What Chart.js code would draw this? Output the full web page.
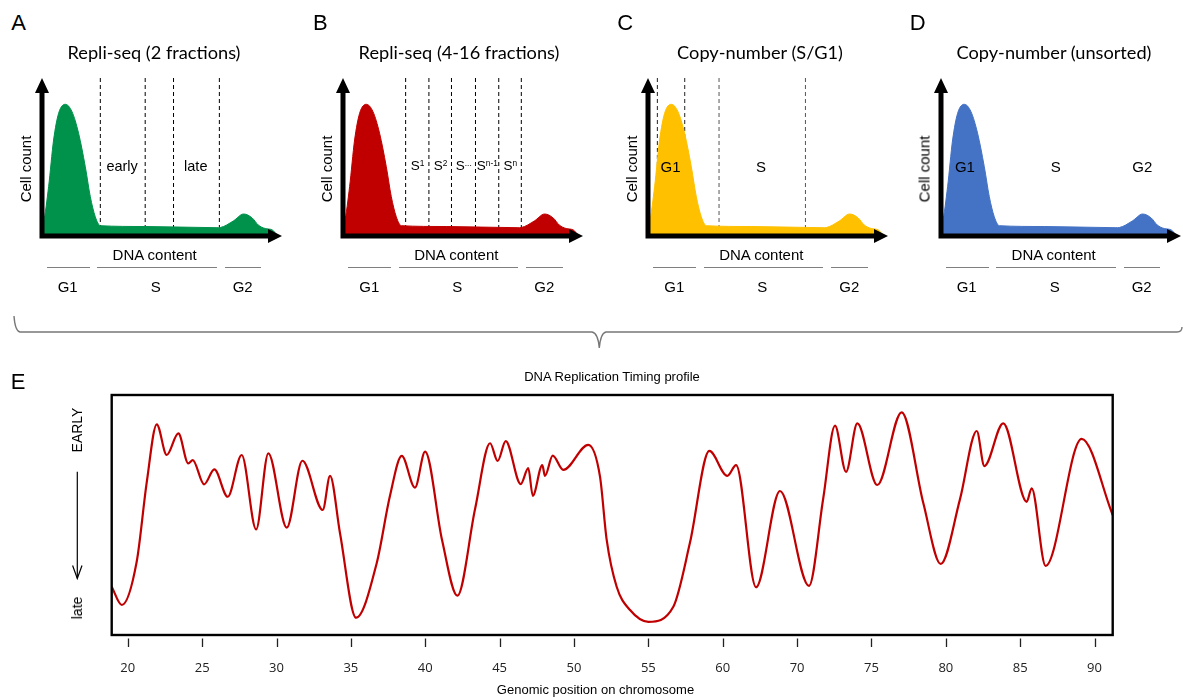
<!DOCTYPE html>
<html>
<head>
<meta charset="utf-8">
<script src="https://cdn.jsdelivr.net/npm/chart.js"></script>
<style>
html, body { margin: 0; padding: 0; background: #fff; }
#fig { position: relative; width: 1183px; height: 697px; overflow: hidden; background: #fff;
       font-family: Arial, "Liberation Sans", sans-serif; color: #000; }
#fig canvas { position: absolute; }
.lbl { position: absolute; white-space: nowrap; transform: translate(-50%, -50%); line-height: 1; }
.rot { transform: translate(-50%, -50%) rotate(-90deg); }
.ttl { font-family: Lato, "Open Sans", sans-serif; font-size: 18.2px; }
.bar { position: absolute; height: 0; border-top: 1px solid #7f7f7f; }
sup { font-size: 0.62em; vertical-align: 0.55em; line-height: 0; }
svg { position: absolute; left: 0; top: 0; }
</style>
</head>
<body>
<div id="fig">
  <svg width="1183" height="697">
    <path d="M14,316 Q15,331 20,332 L592,332 Q598,333 599.3,348 Q600.6,333 606,332 L1177,332 Q1182,332 1182,327"
          fill="none" stroke="#777" stroke-width="1.4"/>
    <line x1="77.3" y1="471.7" x2="77.3" y2="578.3" stroke="#000" stroke-width="1.2"/>
    <polyline points="72.6,565.5 77.3,578.5 82,565.5" fill="none" stroke="#000" stroke-width="1.2"/>
  </svg>
</div>
<script>
// shared flow-cytometry histogram (x: DNA content as % of axis, y: cell count)
const histX = [0, 0.67, 2.75, 4.83, 6.92, 9.71, 12.5, 15.25, 18.04, 20.13, 22.2, 24.3, 43, 72.9, 74.3, 79.7, 84, 87.6, 90.1, 93, 96, 97.6];
const histY = [12, 14.3, 49.3, 96, 122.7, 131.7, 124.3, 102.7, 69.3, 39.3, 19.3, 10.3, 9.5, 8.3, 8.5, 15, 22, 18, 11, 7.5, 6, 2];

// sorting gates per panel (same x units)
const dashesA = [24.3, 43.0, 54.8, 73.9];
const dashesB = [26.1, 35.8, 45.2, 55.2, 64.9, 74.3];
const dashesC = [3.9, 15.3, 29.6, 65.6];
const dashesD = [];

const gateTextA = ['early', 'late'];
const gatePosA = [33.5, 64.2];
const gateTextB = ['S<sup>1</sup>', 'S<sup>2</sup>', 'S<sup>...</sup>', 'S<sup>n-1</sup>', 'S<sup>n</sup>'];
const gatePosB = [30.95, 40.5, 50.2, 60.05, 69.6];
const gateTextC = ['G1', 'S'];
const gatePosC = [9.3, 47];
const gateTextD = ['G1', 'S', 'G2'];
const gatePosD = [10.1, 47.9, 84];

// replication timing profile (x: position along axis, y: 0 = late, 100 = early)
const rtX = [18.92, 19.60, 20.60, 21.28, 21.95, 22.62, 23.40, 24.07, 24.37, 25.13, 25.82, 26.72, 27.66, 28.63, 29.45,
             30.69, 31.74, 33.11, 33.60, 34.27, 35.35, 36.74, 37.63, 38.42, 39.31, 39.99, 41.13, 42.16, 43.35, 44.36,
             44.87, 45.41, 46.42, 46.93, 47.23, 47.87, 48.05, 48.57, 49.28, 50.96, 51.75, 52.20, 52.87, 53.77, 55.00,
             56.68, 57.80, 59.10, 60.31, 60.90, 62.24, 63.85, 65.80, 66.76, 67.55, 68.29, 69.05, 70.39, 72.03, 73.49,
             74.66, 75.95, 77.08, 77.59, 78.86, 80.44, 80.77, 81.71, 84.13, 86.22];
const rtY = [20.1, 12.5, 30.5, 63.8, 87.8, 75.0, 84.0, 71.5, 72.9, 62.8, 69.0, 57.6, 75.0, 44.0, 75.7,
             44.7, 72.6, 52.1, 66.3, 42.4, 7.2, 30.0, 58.0, 74.6, 61.4, 76.4, 39.6, 16.4, 52.5, 79.9,
             72.5, 80.8, 62.9, 69.5, 58.0, 70.8, 66.3, 74.7, 68.8, 79.2, 66.0, 39.6, 20.1, 10.4, 5.5,
             11.8, 38.5, 76.7, 66.3, 70.8, 19.9, 60.0, 20.5, 57.0, 87.2, 68.0, 88.2, 62.5, 92.8, 54.9,
             29.6, 56.5, 85.0, 70.4, 88.2, 55.5, 61.1, 28.8, 81.7, 50.0];

const xTickPos = [20, 25, 30, 35, 40, 45, 50, 55, 60, 65, 70, 75, 80, 85];
const xTickLabels = ['20', '25', '30', '35', '40', '45', '50', '55', '60', '70', '75', '80', '85', '90'];

const fig = document.getElementById('fig');

function addText(html, x, y, cls, css) {
    const d = document.createElement('div');
    d.className = 'lbl' + (cls ? ' ' + cls : '');
    d.innerHTML = html;
    d.style.left = x + 'px';
    d.style.top = y + 'px';
    if (css) Object.assign(d.style, css);
    fig.appendChild(d);
}

function addBar(x1, x2, y) {
    const d = document.createElement('div');
    d.className = 'bar';
    d.style.left = x1 + 'px';
    d.style.width = (x2 - x1) + 'px';
    d.style.top = y + 'px';
    fig.appendChild(d);
}

const axesArrows = {
    id: 'axesArrows',
    afterDatasetsDraw(chart) {
        const { ctx, chartArea: a } = chart;
        ctx.save();
        ctx.strokeStyle = '#000';
        ctx.fillStyle = '#000';
        ctx.lineWidth = 5;
        ctx.beginPath();
        ctx.moveTo(a.left, a.bottom + 2.5);
        ctx.lineTo(a.left, a.top + 12);
        ctx.moveTo(a.left - 2.5, a.bottom);
        ctx.lineTo(a.right - 12, a.bottom);
        ctx.stroke();
        ctx.beginPath();
        ctx.moveTo(a.left, a.top);
        ctx.lineTo(a.left - 7, a.top + 15);
        ctx.lineTo(a.left + 7, a.top + 15);
        ctx.closePath();
        ctx.fill();
        ctx.beginPath();
        ctx.moveTo(a.right, a.bottom);
        ctx.lineTo(a.right - 14, a.bottom - 7);
        ctx.lineTo(a.right - 14, a.bottom + 7);
        ctx.closePath();
        ctx.fill();
        ctx.restore();
    }
};

const panels = [
    { letter: 'A', x0: 41.7, color: '#00914B', title: 'Repli-seq (2 fractions)', titleX: 154,
      dashes: dashesA, dashColor: '#000', gateText: gateTextA, gatePos: gatePosA, gateSize: 14.5 },
    { letter: 'B', x0: 343.3, color: '#C00000', title: 'Repli-seq (4-16 fractions)', titleX: 459,
      dashes: dashesB, dashColor: '#000', gateText: gateTextB, gatePos: gatePosB, gateSize: 13.5 },
    { letter: 'C', x0: 648.3, color: '#FFC000', title: 'Copy-number (S/G1)', titleX: 760,
      dashes: dashesC, dashColor: ['#222', '#222', '#555', '#555'], gateText: gateTextC, gatePos: gatePosC, gateSize: 15 },
    { letter: 'D', x0: 940.7, color: '#4472C4', title: 'Copy-number (unsorted)', titleX: 1054,
      dashes: dashesD, dashColor: '#000', gateText: gateTextD, gatePos: gatePosD, gateSize: 15 }
];

function makePanel(p) {
    const left = p.x0 - 20, top = 60;
    const cv = document.createElement('canvas');
    cv.width = 280;
    cv.height = 190;
    cv.style.left = left + 'px';
    cv.style.top = top + 'px';
    fig.appendChild(cv);

    const datasets = [{
        data: histX.map((x, i) => ({ x: x, y: histY[i] })),
        fill: 'origin',
        backgroundColor: p.color,
        borderColor: p.color,
        borderWidth: 1,
        pointRadius: 0,
        cubicInterpolationMode: 'monotone'
    }];
    p.dashes.forEach((d, i) => {
        datasets.push({
            data: [{ x: d, y: 0 }, { x: d, y: 158 }],
            borderColor: Array.isArray(p.dashColor) ? p.dashColor[i] : p.dashColor,
            borderWidth: 1,
            borderDash: [4, 3],
            pointRadius: 0,
            fill: false
        });
    });

    const chart = new Chart(cv, {
        type: 'line',
        data: { datasets: datasets },
        options: {
            responsive: false,
            animation: false,
            devicePixelRatio: 1,
            layout: { padding: { left: 20, top: 18, right: 20, bottom: 14 } },
            plugins: { legend: { display: false }, tooltip: { enabled: false } },
            scales: {
                x: { type: 'linear', min: 0, max: 100, display: false },
                y: { min: 0, max: 158, display: false }
            }
        },
        plugins: [axesArrows]
    });

    const yLab = top + chart.scales.y.getPixelForValue(70);
    p.gateText.forEach((t, i) => {
        addText(t, left + chart.scales.x.getPixelForValue(p.gatePos[i]), yLab, '', { fontSize: p.gateSize + 'px' });
    });

    addText(p.letter, p.x0 - 23, 23, '', { fontSize: '22px' });
    addText(p.title, p.titleX, 52, 'ttl');
    addText('Cell count', p.x0 - 17, 169, 'rot', { fontSize: '15px' });
    addText('DNA content', p.x0 + 113, 254, '', { fontSize: '15px' });
    addBar(p.x0 + 5, p.x0 + 48, 267);
    addBar(p.x0 + 55.5, p.x0 + 175, 267);
    addBar(p.x0 + 183, p.x0 + 219.5, 267);
    addText('G1', p.x0 + 26, 286, '', { fontSize: '15px' });
    addText('S', p.x0 + 114, 286, '', { fontSize: '15px' });
    addText('G2', p.x0 + 201, 286, '', { fontSize: '15px' });
}

panels.forEach(makePanel);

const frameE = {
    id: 'frameE',
    afterDatasetsDraw(chart) {
        const { ctx, chartArea: a } = chart;
        const sx = chart.scales.x;
        ctx.save();
        ctx.strokeStyle = '#000';
        ctx.lineWidth = 2.4;
        ctx.strokeRect(a.left, a.top, a.right - a.left, a.bottom - a.top);
        ctx.strokeStyle = '#222';
        ctx.lineWidth = 1.3;
        ctx.beginPath();
        xTickPos.forEach(v => {
            const px = Math.round(sx.getPixelForValue(v)) + 0.5;
            ctx.moveTo(px, a.bottom + 3.5);
            ctx.lineTo(px, a.bottom + 12);
        });
        ctx.stroke();
        ctx.restore();
    }
};

const cvE = document.createElement('canvas');
cvE.width = 1183;
cvE.height = 337;
cvE.style.left = '0px';
cvE.style.top = '360px';
fig.appendChild(cvE);

new Chart(cvE, {
    type: 'line',
    data: {
        datasets: [{
            data: rtX.map((x, i) => ({ x: x, y: rtY[i] })),
            borderColor: '#C00000',
            borderWidth: 2.2,
            pointRadius: 0,
            fill: false,
            cubicInterpolationMode: 'monotone'
        }]
    },
    options: {
        responsive: false,
        animation: false,
        devicePixelRatio: 1,
        layout: { padding: { left: 111.7, top: 35, right: 70.3, bottom: 0 } },
        plugins: { legend: { display: false }, tooltip: { enabled: false } },
        scales: {
            x: {
                type: 'linear',
                min: 18.92,
                max: 86.22,
                grid: { display: false, drawTicks: false },
                border: { display: false },
                afterBuildTicks: s => { s.ticks = xTickPos.map(v => ({ value: v })); },
                afterFit: s => { s.height = 62; },
                ticks: {
                    autoSkip: false,
                    maxRotation: 0,
                    padding: 25,
                    color: '#222',
                    font: { family: 'Open Sans', size: 13 },
                    callback: (v, i) => xTickLabels[i]
                }
            },
            y: { display: false, min: 0, max: 100 }
        }
    },
    plugins: [frameE]
});

addText('E', 18, 382, '', { fontSize: '22px' });
addText('DNA Replication Timing profile', 612, 376, '', { fontSize: '13px' });
addText('EARLY', 77.3, 429.5, 'rot', { fontSize: '14px' });
addText('late', 77.3, 607.7, 'rot', { fontSize: '14px' });
addText('Genomic position on chromosome', 595.5, 689, '', { fontSize: '13px' });
</script>
</body>
</html>
